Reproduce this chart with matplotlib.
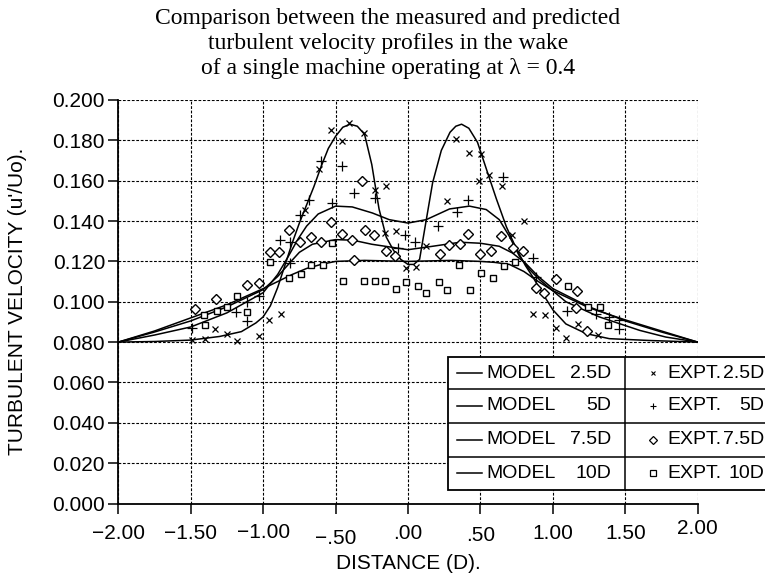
import numpy as np
import matplotlib
matplotlib.use("Agg")
import matplotlib.pyplot as plt
from matplotlib.transforms import ScaledTranslation
from matplotlib.patches import Rectangle
from matplotlib import font_manager

plt.rcParams['font.family'] = ['Liberation Sans', 'DejaVu Sans']

# model curves (distance D, u'/Uo)
m25_x = [-2.0, -1.75, -1.5, -1.3, -1.15, -1.05, -1.0, -0.95, -0.9, -0.85, -0.8, -0.75, -0.7, -0.65,
         -0.6, -0.55, -0.5, -0.45, -0.4, -0.35, -0.3, -0.25, -0.2, -0.15, -0.1, -0.05, 0.0, 0.04,
         0.08, 0.12, 0.17, 0.23, 0.29, 0.33, 0.37, 0.42, 0.48, 0.54, 0.61, 0.68, 0.75, 0.81, 0.86,
         0.93, 1.0, 1.09, 1.23, 1.39, 1.665, 2.0]
m25_y = [0.080, 0.0803, 0.0810, 0.0828, 0.0852, 0.0895, 0.0925, 0.098, 0.107, 0.118, 0.129, 0.139,
         0.148, 0.157, 0.167, 0.176, 0.182, 0.1865, 0.188, 0.187, 0.183, 0.168, 0.146, 0.132, 0.1255,
         0.121, 0.1185, 0.1185, 0.121, 0.138, 0.159, 0.175, 0.184, 0.187, 0.188, 0.186, 0.179, 0.166,
         0.151, 0.137, 0.126, 0.118, 0.1125, 0.104, 0.096, 0.089, 0.0842, 0.0817, 0.0808, 0.080]

m5_x = [-2.0, -1.75, -1.5, -1.25, -1.0, -0.9, -0.83, -0.76, -0.7, -0.62, -0.5, -0.385, -0.246,
        -0.13, 0.0, 0.126, 0.287, 0.424, 0.54, 0.63, 0.70, 0.77, 0.84, 0.91, 1.09, 1.32, 1.6, 1.78, 2.0]
m5_y = [0.080, 0.0835, 0.0875, 0.0945, 0.1045, 0.1135, 0.122, 0.131, 0.1375, 0.1435, 0.1474, 0.147,
        0.144, 0.1407, 0.139, 0.1407, 0.146, 0.1474, 0.1457, 0.1407, 0.1324, 0.1225, 0.1159, 0.1108,
        0.100, 0.0925, 0.0858, 0.0825, 0.080]

m75_x = [-2.0, -1.75, -1.5, -1.25, -1.0, -0.9, -0.82, -0.75, -0.66, -0.5, -0.38, -0.25, -0.13, 0.0,
         0.17, 0.36, 0.5, 0.63, 0.72, 0.81, 0.9, 1.0, 1.25, 1.5, 1.75, 2.0]
m75_y = [0.080, 0.085, 0.0905, 0.0975, 0.106, 0.1125, 0.119, 0.1245, 0.1285, 0.1308, 0.1305, 0.1285,
         0.1272, 0.1258, 0.1275, 0.1295, 0.129, 0.1275, 0.1242, 0.1192, 0.1125, 0.1065, 0.0975,
         0.0905, 0.085, 0.080]

m10_x = [-2.0, -1.75, -1.5, -1.25, -1.0, -0.9, -0.8, -0.7, -0.6, -0.5, -0.3, 0.0, 0.3, 0.5, 0.6,
         0.7, 0.8, 0.9, 1.0, 1.25, 1.5, 1.75, 2.0]
m10_y = [0.080, 0.0855, 0.092, 0.0985, 0.1065, 0.110, 0.1135, 0.1165, 0.1185, 0.120, 0.1205, 0.120,
         0.1205, 0.120, 0.1195, 0.1185, 0.115, 0.110, 0.1055, 0.097, 0.091, 0.0855, 0.080]

# measured points
e25_x = [-1.49, -1.40, -1.33, -1.25, -1.18, -1.03, -0.96, -0.88, -0.708, -0.611, -0.535, -0.458,
         -0.408, -0.304, -0.227, -0.153, -0.157, -0.084, -0.015, 0.057, 0.126, 0.272, 0.328, 0.424,
         0.505, 0.489, 0.557, 0.649, 0.72, 0.801, 0.862, 0.943, 1.023, 1.092, 1.172, 1.31]
e25_y = [0.0812, 0.0817, 0.0867, 0.0838, 0.0803, 0.0828, 0.0908, 0.0937, 0.1457, 0.1656, 0.1851,
         0.1797, 0.1885, 0.1835, 0.1556, 0.1573, 0.1341, 0.135, 0.1165, 0.1172, 0.1275, 0.1497,
         0.1808, 0.1739, 0.1730, 0.160, 0.1626, 0.1573, 0.133, 0.1402, 0.0938, 0.0933, 0.087,
         0.0822, 0.0892, 0.0833]

e5_x = [-1.493, -1.187, -1.113, -1.113, -1.032, -0.882, -0.813, -0.813, -0.746, -0.681, -0.603,
        -0.527, -0.454, -0.373, -0.226, -0.067, -0.021, 0.048, 0.209, 0.34, 0.416, 0.654, 0.862,
        0.881, 1.100, 1.30, 1.385, 1.459, 1.459]
e5_y = [0.087, 0.095, 0.100, 0.0903, 0.103, 0.1305, 0.1297, 0.119, 0.143, 0.1504, 0.1698, 0.1488,
        0.1673, 0.1538, 0.1513, 0.1265, 0.1331, 0.1295, 0.1377, 0.1443, 0.1504, 0.162, 0.1217,
        0.1125, 0.0953, 0.0938, 0.0922, 0.0912, 0.0865]

e75_x = [-1.47, -1.327, -1.113, -1.028, -0.956, -0.889, -0.82, -0.744, -0.673, -0.604, -0.535,
         -0.458, -0.385, -0.373, -0.315, -0.297, -0.234, -0.154, -0.089, 0.218, 0.282, 0.36, 0.417,
         0.498, 0.573, 0.642, 0.722, 0.796, 0.881, 0.938, 1.023, 1.165, 1.161, 1.234]
e75_y = [0.0962, 0.1012, 0.1083, 0.1092, 0.1245, 0.1245, 0.1355, 0.1297, 0.1319, 0.1296, 0.1394,
         0.1336, 0.1308, 0.1205, 0.160, 0.1354, 0.1333, 0.125, 0.1225, 0.1238, 0.1283, 0.1286,
         0.1338, 0.1238, 0.125, 0.1328, 0.1266, 0.1253, 0.1067, 0.1045, 0.1112, 0.1055, 0.097,
         0.0853]

e10_x = [-1.41, -1.40, -1.32, -1.247, -1.182, -1.113, -0.952, -0.822, -0.739, -0.672, -0.589,
         -0.523, -0.451, -0.302, -0.228, -0.159, -0.083, -0.012, 0.07, 0.125, 0.215, 0.27, 0.352,
         0.428, 0.504, 0.589, 0.665, 0.739, 1.107, 1.246, 1.323, 1.383]
e10_y = [0.0933, 0.0883, 0.0955, 0.0972, 0.103, 0.095, 0.1197, 0.1119, 0.1136, 0.1182, 0.1182,
         0.1293, 0.1103, 0.1103, 0.1103, 0.1103, 0.1063, 0.1099, 0.108, 0.1042, 0.1099, 0.1058,
         0.118, 0.1058, 0.1144, 0.1119, 0.1177, 0.1199, 0.1078, 0.0975, 0.0975, 0.0884]

x_ticks = [-2.0, -1.5, -1.0, -0.5, 0.0, 0.5, 1.0, 1.5, 2.0]
x_labels = ['\u22122.00', '\u22121.50', '\u22121.00', '\u2212.50', '.00', '.50', '1.00', '1.50', '2.00']
y_ticks = [0.0, 0.02, 0.04, 0.06, 0.08, 0.10, 0.12, 0.14, 0.16, 0.18, 0.20]
y_labels = ['%.3f' % v for v in y_ticks]

# narrow face for the legend if present
installed = {f.name for f in font_manager.fontManager.ttflist}
leg_family = 'Liberation Sans Narrow' if 'Liberation Sans Narrow' in installed else 'Liberation Sans'
leg_size = 15 if leg_family == 'Liberation Sans Narrow' else 14

W, H = 765, 574
fig = plt.figure(figsize=(W / 100, H / 100), dpi=100)
ax = fig.add_axes([118.3 / W, (H - 503.5) / H, (697.7 - 118.3) / W, (503.5 - 100) / H])

ax.plot(m25_x, m25_y, color='black', lw=1.1)
ax.plot(m5_x, m5_y, color='black', lw=1.1)
ax.plot(m75_x, m75_y, color='black', lw=1.1)
ax.plot(m10_x, m10_y, color='black', lw=1.1)

ax.plot(e25_x, e25_y, ls='none', marker='x', ms=5, mew=0.9, color='black')
ax.plot(e5_x, e5_y, ls='none', marker='+', ms=6.5, mew=0.9, color='black')
ax.plot(e75_x, e75_y, ls='none', marker='D', ms=5, mew=1.0, mfc='white', mec='black')
ax.plot(e10_x, e10_y, ls='none', marker='s', ms=5, mew=1.0, mfc='white', mec='black')

ax.set_xlim(-2, 2)
ax.set_ylim(0, 0.2)
ax.set_xticks(x_ticks)
ax.set_xticklabels(x_labels)
ax.set_yticks(y_ticks)
ax.set_yticklabels(y_labels)
ax.tick_params(direction='out', length=7.5, width=1.1, labelsize=15, colors='black')
ax.tick_params(axis='x', pad=7.5)
ax.tick_params(axis='y', pad=2)

# small vertical jitter of the x tick labels as in the original
offsets = [0, 0, 1, -3, 0, -1, 0, 0, 4]
for lab, dy in zip(ax.get_xticklabels(), offsets):
    lab.set_transform(lab.get_transform() + ScaledTranslation(0, dy / 72, fig.dpi_scale_trans))

ax.grid(True, color='black', linestyle=(0, (2.5, 1.5)), lw=0.8)
ax.set_axisbelow(True)
for s in ['top', 'right']:
    ax.spines[s].set_visible(False)
for s in ['left', 'bottom']:
    ax.spines[s].set_linewidth(1.3)

ax.set_xlabel('DISTANCE (D).', fontsize=15)
ax.xaxis.set_label_coords(0.5, -0.124)
ax.set_ylabel("TURBULENT VELOCITY (u'/Uo).", fontsize=15)
ax.yaxis.set_label_coords(-0.158, 0.5)

fig.text(388 / W, 1 - 8 / H,
         'Comparison between the measured and predicted\n'
         'turbulent velocity profiles in the wake\n'
         'of a single machine operating at \u03bb = 0.4',
         ha='center', va='top', fontsize=17, family='Liberation Serif', linespacing=1.25)

# legend drawn as a boxed table
L, R, T, B = 448.3, 790, 357.3, 490
lax = fig.add_axes([L / W, (H - B) / H, (R - L) / W, (B - T) / H])
lax.set_xlim(L, R)
lax.set_ylim(B, T)
lax.axis('off')
lax.add_patch(Rectangle((L, T), R - L, B - T, facecolor='white', edgecolor='black', lw=1.3,
                        clip_on=False))
for yb in [389.3, 422.7, 456.7]:
    lax.plot([L, R], [yb, yb], color='black', lw=1.1)
lax.plot([625, 625], [T, B], color='black', lw=1.1)

rows = [373.3, 406, 439.7, 473.3]
nums = ['2.5D', '5D', '7.5D', '10D']
leg_markers = [dict(marker='x', ms=3.5, mew=0.8, color='black'),
               dict(marker='+', ms=4.5, mew=0.8, color='black'),
               dict(marker='D', ms=4.5, mew=0.9, mfc='white', mec='black'),
               dict(marker='s', ms=4.5, mew=0.9, mfc='white', mec='black')]
for yc, num, mk in zip(rows, nums, leg_markers):
    lax.plot([456.7, 481.7], [yc, yc], color='black', lw=1.1)
    lax.text(486.7, yc, 'MODEL', ha='left', va='center', fontsize=leg_size, family=leg_family)
    lax.text(611.7, yc, num, ha='right', va='center', fontsize=leg_size, family=leg_family)
    lax.plot([653.3], [yc], ls='none', **mk)
    lax.text(667, yc, 'EXPT.', ha='left', va='center', fontsize=leg_size, family=leg_family)
    lax.text(764, yc, num, ha='right', va='center', fontsize=leg_size, family=leg_family)

fig.savefig('out.png', dpi=100)
